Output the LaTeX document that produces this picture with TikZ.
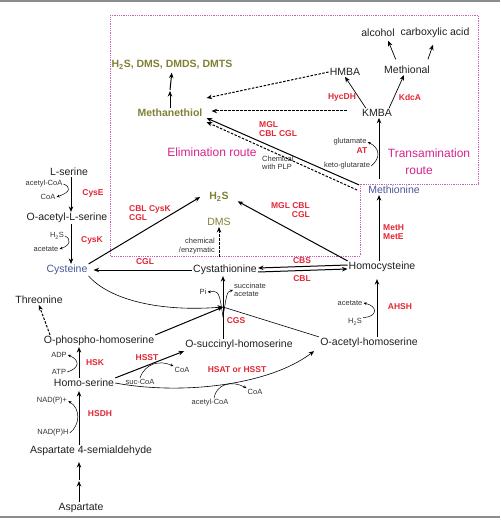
\documentclass[tikz,border=0pt]{standalone}
\usepackage{fontspec}
\setmainfont{Liberation Sans}
\usetikzlibrary{arrows.meta}
\definecolor{enzred}{RGB}{226,38,52}
\definecolor{vololive}{RGB}{128,128,52}
\definecolor{routepink}{RGB}{214,36,140}
\definecolor{metblue}{RGB}{72,86,150}
\definecolor{boxpink}{RGB}{200,96,186}
\begin{document}
\begin{tikzpicture}[x=1pt,y=-1pt,line join=round,>={Stealth[length=5.5pt,width=4.5pt]}]
    \tikzset{met/.style={font=\fontsize{10.5}{12}\selectfont,text=black!88,inner sep=1pt},
        bluemet/.style={met,text=metblue},
        vol/.style={font=\bfseries\fontsize{10.5}{12}\selectfont,text=vololive,inner sep=1pt},
        enz/.style={font=\bfseries\fontsize{8.5}{9.5}\selectfont,text=enzred,inner sep=0pt},
        side/.style={font=\fontsize{7.5}{8.5}\selectfont,text=black!80,inner sep=1pt},
        route/.style={font=\fontsize{12}{13}\selectfont,text=routepink,inner sep=0pt},
        rxn/.style={->,line width=1pt},
        sidearc/.style={-{Stealth[length=3.2pt,width=2.8pt]},line width=0.5pt},
        spont/.style={->,line width=1pt,dash pattern=on 2.5pt off 1.5pt}}
    \useasboundingbox (0,0) rectangle (500,529);
    \draw[black!45,line width=2pt] (0,1)--(500,1);
    \draw[black!45,line width=2pt] (0,517)--(500,517);
    % elimination / transamination box
    \draw[boxpink,densely dotted,line width=0.8pt] (110,15)--(478,15)--(478,184)--(360,184)--(360,256)--(110,256)--cycle;
    \coordinate (colA) at (71,0);
    \coordinate (colB) at (79,0);
    \coordinate (colC) at (379,0);
    \coordinate (colD) at (377,0);
    \coordinate (jn) at (223,307);
    % metabolites
    \node[met] (lser) at (69,172) {L-serine};
    \node[met] (oas) at (67,218) {O-acetyl-L-serine};
    \node[bluemet] (cys) at (67,270) {Cysteine};
    \node[met] (thr) at (39,300) {Threonine};
    \node[met] (oph) at (99,341) {O-phospho-homoserine};
    \node[met] (hser) at (84,383) {Homo-serine};
    \node[met] (asa) at (91,451) {Aspartate 4-semialdehyde};
    \node[met] (asp) at (81,508) {Aspartate};
    \node[met] (osh) at (239,345) {O-succinyl-homoserine};
    \node[met] (oah) at (369,343) {O-acetyl-homoserine};
    \node[met] (cth) at (225,270) {Cystathionine};
    \node[met] (hcy) at (382,267) {Homocysteine};
    \node[bluemet] (met) at (394,190) {Methionine};
    \node[met] (kmba) at (377,113) {KMBA};
    \node[met] (hmba) at (345,72) {HMBA};
    \node[met] (mtnl) at (407,70) {Methional};
    \node[met] (alc) at (378,33) {alcohol};
    \node[met] (cbx) at (435,33) {carboxylic acid};
    \node[vol] (mesh) at (170,113) {Methanethiol};
    \node[vol] (vsc) at (172,65) {H\textsubscript{2}S, DMS, DMDS, DMTS};
    \node[vol] (hs) at (219,197) {H\textsubscript{2}S};
    \node[vol,font=\fontsize{10.5}{12}\selectfont] (dms) at (219,222) {DMS};
    \coordinate (meshmid) at (170,91);
    \coordinate (aspmid) at (79,481);
    % co-substrates
    \node[side] (acoa1) at (44,184) {acetyl-CoA};
    \node[side] (coa1) at (48,197) {CoA};
    \node[side] (hs1) at (57,236) {H\textsubscript{2}S};
    \node[side] (ac1) at (46,249) {acetate};
    \node[side] (adp) at (59,355) {ADP};
    \node[side] (atp) at (59,372) {ATP};
    \node[side] (nadp) at (52,401) {NAD(P)+};
    \node[side] (nadph) at (53,433) {NAD(P)H};
    \node[side] (sucoa) at (140,382) {suc-CoA};
    \node[side] (coa2) at (182,370) {CoA};
    \node[side] (accoa) at (210,403) {acetyl-CoA};
    \node[side] (coa3) at (255,392) {CoA};
    \node[side] (pi) at (203,292) {Pi};
    \node[side,align=left,anchor=west] (sucac) at (233,290) {succinate\\acetate};
    \node[side] (ac2) at (350,303) {acetate};
    \node[side] (hs2) at (355,322) {H\textsubscript{2}S};
    \node[side] (glu) at (350,142) {glutamate};
    \node[side] (akg) at (347,166) {keto-glutarate};
    \node[side,align=left,anchor=west] (plp) at (261,163) {Chemical\\with PLP};
    \node[side,align=right,anchor=east] (chem) at (216,246) {chemical\\/enzymatic};
    % enzymes
    \node[enz] (cyse) at (93,193) {CysE};
    \node[enz] (cysk) at (92,240) {CysK};
    \node[enz] (cgl) at (145,262) {CGL};
    \node[enz,align=left,anchor=west] (cbl1) at (129,213) {CBL CysK\\CGL};
    \node[enz,align=right,anchor=east] (mgl1) at (310,210) {MGL CBL\\CGL};
    \node[enz,align=left,anchor=west] (mgl2) at (259,129) {MGL\\CBL CGL};
    \node[enz] (cbs) at (302,261) {CBS};
    \node[enz] (cbl2) at (302,279) {CBL};
    \node[enz,align=left,anchor=west] (meth) at (383,232) {MetH\\MetE};
    \node[enz] (ahsh) at (400,307) {AHSH};
    \node[enz] (cgs) at (236,321) {CGS};
    \node[enz] (hsk) at (95,363) {HSK};
    \node[enz] (hsdh) at (100,414) {HSDH};
    \node[enz] (hsst) at (147,358) {HSST};
    \node[enz] (hsat) at (237,370) {HSAT or HSST};
    \node[enz] (at) at (362,151) {AT};
    \node[enz] (hycdh) at (342,97) {HycDH};
    \node[enz] (kdca) at (410,97) {KdcA};
    \node[route] (elim) at (212,152) {Elimination route};
    \node[route] (trans) at (429,153) {Transamination};
    \node[route] (trans2) at (419,171) {route};
    % main reactions
    \draw[rxn] (lser.south -| colA)--(oas.north -| colA);
    \draw[rxn] (oas.south -| colA)--(cys.north -| colA);
    \draw[spont] ([xshift=-49pt]oph.north)--(thr.south);
    \draw[rxn] (hser.north -| colB)--(oph.south -| colB);
    \draw[rxn] (asa.north -| colB)--([yshift=-3pt]hser.south -| colB);
    \draw[rxn] (asp.north -| colB)--(aspmid);
    \draw[rxn,shorten >=5pt] ([yshift=1pt]aspmid)--(asa.south -| colB);
    \draw[rxn] (cth.west)--([xshift=5pt]cys.east);
    \draw[rxn] ([yshift=2pt]hcy.west)--([yshift=2pt]cth.east);
    \draw[rxn] ([yshift=-2pt]cth.east)--([yshift=-2pt]hcy.west);
    \draw[rxn] (cys.north east)--([xshift=-8pt]hs.west);
    \draw[rxn,shorten >=9pt] (hcy.north west)--(hs.east);
    \draw[spont,shorten <=7pt] (cth.north -| dms)--(dms.south);
    \draw[line width=1pt] (osh.north -| jn)--(jn);
    \draw[rxn] (jn)--(cth.south -| jn);
    \draw[rxn] (oph.north east)--(jn);
    \draw[rxn,line width=0.6pt] (cys.south east) .. controls (110,300) and (160,312) .. (jn);
    \draw[line width=0.6pt] (oah.north west)--(jn);
    \draw[rxn] (hser.north east)--(osh.south west);
    \draw[rxn,line width=0.6pt] (hser.east) .. controls (180,395) and (268,386) .. ([shift={(-5,2)}]oah.south west);
    \draw[rxn] (oah.north -| colD)--([yshift=-6pt]hcy.south -| colD);
    \draw[rxn] (hcy.north -| colC)--(met.south -| colC);
    \draw[rxn] ([yshift=6pt]met.north -| colC)--(kmba.south -| colC);
    \draw[rxn,line width=0.7pt] ([xshift=5pt]kmba.north west)--(hmba.south);
    \draw[rxn,line width=0.7pt] ([xshift=-4pt]kmba.north east)--([xshift=-3pt]mtnl.south);
    \draw[rxn,line width=0.7pt,shorten <=6pt,shorten >=3pt] ([xshift=-9pt]mtnl.north)--([xshift=9pt]alc.south);
    \draw[rxn,line width=0.7pt,shorten <=6pt,shorten >=6pt] ([xshift=19pt]mtnl.north)--(cbx.south);
    % routes to methanethiol
    \draw[spont] (hmba.west)--([shift={(3,-15)}]mesh.east);
    \draw[spont,shorten <=14pt] ([yshift=2pt]kmba.west)--([shift={(8,-2)}]mesh.east);
    \draw[rxn] ([xshift=-8pt]met.north west)--([xshift=3pt]mesh.south east);
    \draw[spont] ([xshift=-10pt]met.west)--([shift={(3,4)}]mesh.south east);
    \draw[rxn] (mesh.north)--(meshmid);
    \draw[rxn,shorten >=2pt] ([yshift=1pt]meshmid)--(vsc.south);
    % co-substrate arcs
    \draw[sidearc] (acoa1.east) .. controls (71,187) and (71,192) .. (coa1.east);
    \draw[sidearc] (hs1.east) .. controls (71,239) and (71,245) .. (ac1.east);
    \draw[sidearc] (atp.east) .. controls (80,368) and (80,360) .. (adp.east);
    \draw[sidearc] (nadph.east) .. controls (80,425) and (81,409) .. (nadp.east);
    \draw[sidearc] (sucoa.north) .. controls (145,363) and (160,360) .. (coa2.north west);
    \draw[sidearc] ([xshift=4pt]accoa.north) .. controls (216,384) and (232,380) .. (coa3.north west);
    \draw[sidearc] ([yshift=-10pt]jn) .. controls (219,291) .. (pi.east);
    \draw[sidearc] ([yshift=-10pt]jn) .. controls (227,292) .. (sucac.west);
    \draw[sidearc] (hs2.north east) .. controls (378,317) and (378,306) .. (ac2.east);
    \draw[sidearc] (akg.east) .. controls (381,158) and (380,148) .. (glu.east);
\end{tikzpicture}
\end{document}
